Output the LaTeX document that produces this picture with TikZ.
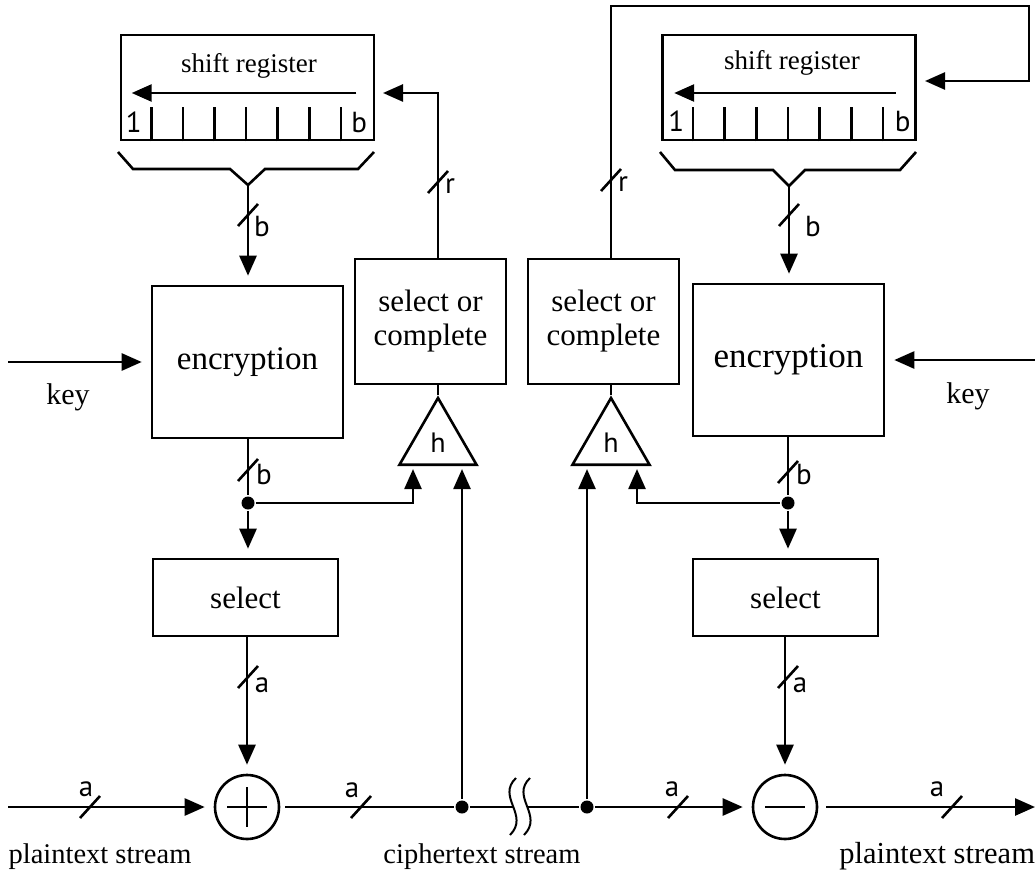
\documentclass[tikz,border=0pt]{standalone}
\usepackage{fontspec}
\setmainfont{Liberation Serif}
\newfontfamily\tagfont{PT Sans}
\usetikzlibrary{shapes.geometric, arrows.meta}

% bus width mark: slash at #1, label #3 shifted by #2, label named #4
\newcommand{\wire}[4]{%
  \draw (#1) ++(-10,11) -- ++(20,-22);
  \path (#1) ++(#2) node (#4) [tag] {#3};}

\begin{document}
\begin{tikzpicture}[x=1pt, y=-1pt, line width=2.6pt]
    % --- STYLES ---
    \tikzstyle{box} = [rectangle, draw=black, line width=2.6pt, inner sep=0pt]
    \tikzstyle{reg} = [box, minimum width=253pt, minimum height=105pt]
    \tikzstyle{regtext} = [font=\fontsize{27}{30}\selectfont, inner sep=0pt]
    \tikzstyle{enc} = [box, minimum width=191pt, minimum height=152pt, font=\fontsize{33}{38}\selectfont]
    \tikzstyle{soc} = [box, minimum width=151pt, minimum height=125pt, align=center, font=\fontsize{31}{34}\selectfont]
    \tikzstyle{sel} = [box, minimum width=185pt, minimum height=77pt, font=\fontsize{31}{36}\selectfont]
    \tikzstyle{hash} = [regular polygon, regular polygon sides=3, draw=black, minimum size=89pt, inner sep=0pt, font=\tagfont\fontsize{28}{30}\selectfont]
    \tikzstyle{xor} = [circle, draw=black, minimum size=64pt, inner sep=0pt]
    \tikzstyle{junction} = [circle, fill=black, minimum size=13pt, inner sep=0pt]
    \tikzstyle{tag} = [font=\tagfont\fontsize{29}{32}\selectfont, inner sep=0pt]
    \tikzstyle{keytext} = [font=\fontsize{30}{34}\selectfont, inner sep=0pt]
    \tikzstyle{stream} = [font=\fontsize{28.5}{32}\selectfont, inner sep=0pt, anchor=base]
    \tikzstyle{flow} = [-{Triangle[length=20pt, width=17pt]}, shorten >=9pt]
    \tikzstyle{flowin} = [flow, shorten >=3pt]

    \useasboundingbox (0,0) rectangle (1035,872);

    % --- NODES ---
    % shift registers with their cells
    \node (srL) [reg] at (247.5,87.5) {};
    \node (srR) [reg] at (789,87.5) {};
    \node (srLtxt) [regtext] at (249,66) {shift register};
    \node (srRtxt) [regtext] at (792,63) {shift register};
    \foreach \k in {1,...,7} {
        \draw ([xshift=\k*31.6pt]srL.south west) -- ++(0,-34);
        \draw ([xshift=\k*31.7pt]srR.south west) -- ++(0,-34);
    }
    \node (srLone) [tag] at ([shift={(14,-19)}]srL.south west) {1};
    \node (srLb)   [tag] at ([shift={(-16,-19)}]srL.south east) {b};
    \node (srRone) [tag] at ([shift={(15,-20)}]srR.south west) {1};
    \node (srRb)   [tag] at ([shift={(-14,-20)}]srR.south east) {b};
    \draw[flow, shorten >=0pt] ([shift={(-19,5.5)}]srL.east) -- ([shift={(12,5.5)}]srL.west);
    \draw[flow, shorten >=0pt] ([shift={(-21,5.5)}]srR.east) -- ([shift={(13,5.5)}]srR.west);

    % braces under the registers
    \draw (118,152) -- (133,169) -- (230,169) -- (248,185) -- (265,169) -- (358,169) -- (374,152);
    \draw (660,152) -- (675,170) -- (773,170) -- (789,186) -- (805,170) -- (900,170) -- (916,152);
    \coordinate (brL) at (248,185);
    \coordinate (brR) at (789,186);

    \node (encL) [enc] at (247.5,362) {encryption};
    \node (encR) [enc, font=\fontsize{35}{40}\selectfont] at (788.5,360) {encryption};
    \node (socL) [soc] at (430.5,321.5) {select or\\complete};
    \node (socR) [soc] at (603.5,321.5) {select or\\complete};
    \node (triL) [hash] at (438,442.5) {h};
    \node (triR) [hash] at (611,442.5) {h};
    \node (selL) [sel] at (245.5,597.5) {select};
    \node (selR) [sel] at (785.5,597.5) {select};

    \node (jL)  [junction] at (248,503) {};
    \node (jR)  [junction] at (788,503) {};
    \node (jCL) [junction] at (462,807) {};
    \node (jCR) [junction] at (587,807) {};

    \node (addL) [xor] at (247,807) {};
    \node (subR) [xor] at (785,807) {};
    \draw (addL.center) ++(-20,0) -- ++(40,0) (addL.center) ++(0,-20) -- ++(0,40);
    \draw (subR.center) ++(-20,0) -- ++(40,0);

    \node (keyLtxt) [keytext] at (68,397) {key};
    \node (keyRtxt) [keytext] at (968,396) {key};
    \node (ptLtxt) [stream] at (100,863) {plaintext stream};
    \node (cttxt)  [stream] at (482,863) {ciphertext stream};
    \node (ptRtxt) [stream, anchor=base west, font=\fontsize{30.5}{34}\selectfont] at (838,863) {plaintext stream};

    \coordinate (keyL) at (8,362);
    \coordinate (keyR) at (1035,360);
    \coordinate (ptIn) at (8,807);
    \coordinate (ptOut) at (1035,807);
    \coordinate (brkA) at (513,807);
    \coordinate (brkB) at (527,807);
    \coordinate (fbTop) at (1029,6);
    \coordinate (fbR) at (916,81);
    \coordinate (fbL) at (374,93);

    % --- ARROWS and LABELS ---
    % encrypting side
    \draw[flow] (brL) -- (brL |- encL.north);
    \draw[flow] (keyL) -- (encL.west);
    \draw (jL |- encL.south) -- (jL);
    \draw[flow] (jL) -- (jL |- selL.north);
    \draw[flowin] (jL) -| ([xshift=-25pt]triL.south);
    \draw[flowin] (jCL) -- (jCL |- triL.south);
    \draw (triL.corner 1) -- (triL.corner 1 |- socL.south);
    \draw[flow] (triL.corner 1 |- socL.north) |- (fbL);
    \draw[flow] (addL |- selL.south) -- (addL);
    \draw[flow] (ptIn) -- (addL);
    \draw[shorten <=5pt] (addL) -- (jCL);
    \draw (jCL) -- (brkA);

    % break in the channel
    \draw[line width=2pt] (516,778) .. controls (496,797) and (530,815) .. (510,835);
    \draw[line width=2pt] (530,778) .. controls (510,797) and (544,815) .. (524,835);

    % decrypting side
    \draw (brkB) -- (jCR);
    \draw[flow] (jCR) -- (subR);
    \draw[flow, shorten <=8pt, shorten >=0pt] (subR) -- (ptOut);
    \draw[flow] (brR) -- (brR |- encR.north);
    \draw[flow] (keyR) -- (encR.east);
    \draw (jR |- encR.south) -- (jR);
    \draw[flow] (jR) -- (jR |- selR.north);
    \draw[flowin] (jR) -| ([xshift=26pt]triR.south);
    \draw[flowin] (jCR) -- (jCR |- triR.south);
    \draw (triR.corner 1) -- (triR.corner 1 |- socR.south);
    \draw[flow] (triR.corner 1 |- socR.north) |- (fbTop) |- (fbR);
    \draw[flow] (subR |- selR.south) -- (subR);

    % bus widths
    \wire{248,215}{14,11}{b}{wbL}
    \wire{789,215}{24,11}{b}{wbR}
    \wire{248,470}{16,4}{b}{wencL}
    \wire{788,472}{16,2}{b}{wencR}
    \wire{248,677}{14,8}{a}{wselL}
    \wire{788,677}{12,8}{a}{wselR}
    \wire{438,182}{12,4}{r}{wfbL}
    \wire{611,180}{12,4}{r}{wfbR}
    \wire{90,807}{-4,-18}{a}{wptL}
    \wire{361,807}{-9,-17}{a}{wctL}
    \wire{678,807}{-6,-18}{a}{wctR}
    \wire{952,807}{-15,-18}{a}{wptR}

\end{tikzpicture}
\end{document}
